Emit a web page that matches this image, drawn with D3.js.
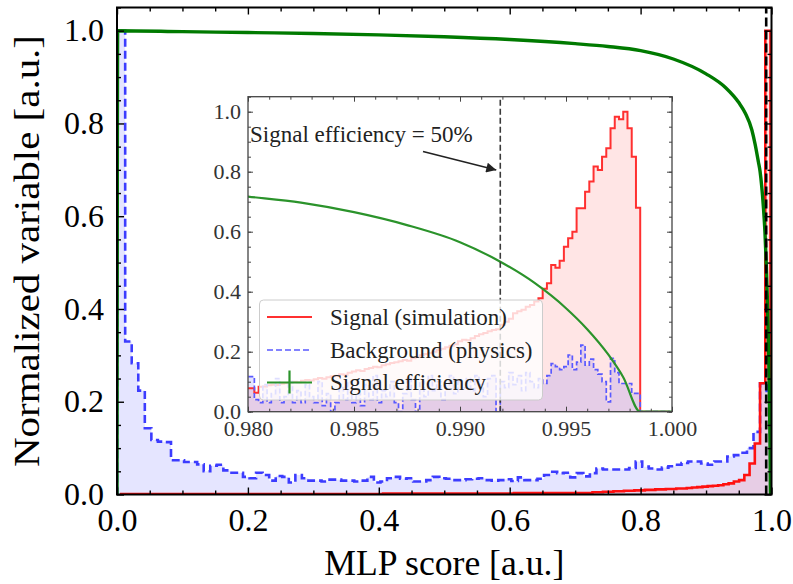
<!DOCTYPE html>
<html><head><meta charset="utf-8">
<script src="https://cdn.jsdelivr.net/npm/d3@7"></script>
<style>
body{margin:0;background:#fff}
svg{display:block}
text{font-family:"Liberation Serif","Times New Roman",serif}
</style>
</head><body>
<svg id="c" width="793" height="584"></svg>
<script>
// ---------------- DATA ----------------
// Main plot: background (physics) histogram, 100 bins
const bkgValues = [
1.0, 0.33, 0.283, 0.224, 0.143, 0.1175, 0.114, 0.113, 0.074, 0.074,
0.07, 0.07, 0.065, 0.05, 0.062, 0.064, 0.052, 0.047, 0.047, 0.038,
0.035, 0.047, 0.042, 0.03, 0.04, 0.038, 0.026, 0.042, 0.035, 0.03,
0.03, 0.028, 0.032, 0.032, 0.03, 0.03, 0.028, 0.03, 0.038, 0.026,
0.028, 0.035, 0.038, 0.034, 0.035, 0.028, 0.028, 0.031, 0.038, 0.035,
0.034, 0.031, 0.031, 0.033, 0.034, 0.035, 0.031, 0.03, 0.031, 0.033,
0.029, 0.037, 0.031, 0.031, 0.034, 0.042, 0.049, 0.046, 0.047, 0.037,
0.046, 0.039, 0.046, 0.056, 0.054, 0.054, 0.054, 0.054, 0.057, 0.071,
0.06, 0.056, 0.054, 0.058, 0.061, 0.064, 0.068, 0.071, 0.071, 0.067,
0.064, 0.071, 0.071, 0.082, 0.085, 0.09, 0.1, 0.135, 0.24, 0.22
];
// Main plot: signal (simulation) histogram, 124 bins of width 0.008 ending at 0.9985
const sigValues = [
0.001,0.001,0.001,0.001,0.001,0.001,0.001,0.001,0.001,0.001,
0.001,0.001,0.001,0.001,0.001,0.001,0.001,0.001,0.001,0.001,
0.001,0.001,0.001,0.001,0.001,0.001,0.001,0.001,0.001,0.001,
0.001,0.001,0.001,0.001,0.001,0.001,0.001,0.001,0.001,0.001,
0.001,0.001,0.001,0.001,0.001,0.001,0.001,0.001,0.001,0.001,
0.002,0.002,0.002,0.002,0.002,0.002,0.002,0.002,0.002,0.002,
0.002,0.002,0.002,0.002,0.002,0.002,0.002,0.002,0.002,0.002,
0.002,0.002,0.002,0.002,0.002,0.003,0.003,0.003,0.003,0.003,
0.003,0.003,0.003,0.003,0.003,0.003,0.003,0.003,0.003,0.003,
0.005,0.005,0.006,0.006,0.007,0.007,0.008,0.008,0.009,0.009,
0.01,0.01,0.011,0.011,0.012,0.012,0.013,0.013,0.014,0.015,
0.016,0.017,0.018,0.019,0.02,0.022,0.024,0.028,0.031,0.042,
0.067,0.11,0.24,1.0
];
// Signal efficiency curve (score, efficiency)
const effScore = [0, 0.001, 0.1, 0.2, 0.3, 0.4, 0.5, 0.6, 0.7, 0.75, 0.8, 0.85, 0.9, 0.93, 0.95, 0.96, 0.97, 0.975,
  0.98, 0.9825, 0.985, 0.9875, 0.99, 0.9919, 0.9935, 0.995, 0.996, 0.997, 0.9977, 0.9985, 1.0];
const effValue = [0, 1.0, 0.998, 0.996, 0.994, 0.991, 0.987, 0.981, 0.972, 0.966, 0.957, 0.939, 0.907, 0.877, 0.845, 0.822, 0.786, 0.755,
  0.717, 0.697, 0.665, 0.622, 0.565, 0.5, 0.43, 0.345, 0.275, 0.19, 0.115, 0.0, 0.0];
const effCut = 0.9919;   // score at 50% signal efficiency

// Inset: 100 bins of width 0.0002
const insetSig = [
0.078,0.078,0.063,0.083,0.084,0.088,0.09,0.089,0.093,0.095,
0.097,0.1,0.098,0.103,0.106,0.104,0.108,0.112,0.11,0.115,
0.118,0.12,0.125,0.123,0.13,0.134,0.138,0.136,0.142,0.146,
0.15,0.148,0.155,0.158,0.162,0.165,0.168,0.172,0.17,0.178,
0.182,0.188,0.192,0.196,0.2,0.206,0.21,0.215,0.22,0.225,
0.235,0.24,0.238,0.245,0.252,0.258,0.262,0.268,0.272,0.275,
0.29,0.3,0.31,0.328,0.335,0.34,0.35,0.356,0.367,0.378,
0.41,0.428,0.489,0.48,0.503,0.55,0.578,0.6,0.678,0.678,
0.733,0.767,0.817,0.806,0.85,0.878,0.945,0.983,0.975,1.0,
0.945,0.85,0.68,0,0,0,0,0,0,0
];
const insetBkg = [
0.117,0.117,0.04,0.03,0.09,0.03,0.06,0.11,0.03,0.05,
0.1,0.03,0.07,0.03,0.09,0.05,0.03,0.1,0.02,0.06,
0.0,0.03,0.08,0.04,0.1,0.03,0.06,0.02,0.09,0.04,
0.12,0.03,0.07,0.05,0.1,0.03,0.0,0.06,0.11,0.04,
0.0,0.1,0.05,0.12,0.07,0.1,0.04,0.09,0.12,0.06,
0.1,0.08,0.11,0.07,0.12,0.09,0.05,0.11,0.12,0.0,
0.1,0.08,0.13,0.09,0.12,0.07,0.13,0.1,0.08,0.11,
0.094,0.12,0.16,0.15,0.14,0.15,0.189,0.14,0.165,0.222,
0.155,0.175,0.14,0.125,0.1,0.033,0.178,0.13,0.094,0.094,
0.094,0.061,0.061,0,0,0,0,0,0,0
];
const mainXTicks = [0, 0.2, 0.4, 0.6, 0.8, 1.0];
const mainYTicks = [0, 0.2, 0.4, 0.6, 0.8, 1.0];
const insetXTicks = [0.980, 0.985, 0.990, 0.995, 1.000];
const insetYTicks = [0, 0.2, 0.4, 0.6, 0.8, 1.0];
const legendLabels = ["Signal (simulation)", "Background (physics)", "Signal efficiency"];
const annotationText = "Signal efficiency = 50%";
const xLabel = "MLP score [a.u.]";
const yLabel = "Normalized variable [a.u.]";

// bin edges (categories)
const bkgEdges = [0].concat(d3.range(1,100).map(i => 0.0025 + 0.01*i)).concat([1.0]);
const sigEdges = d3.range(125).map(k => 0.0065 + 0.008*k);
const insetEdges = d3.range(101).map(k => 0.9799 + 0.0002*k);

// ---------------- DRAW ----------------
const svg = d3.select("#c");
const defs = svg.append("defs");

function stepPts(edges, vals){
  const p = [[edges[0], 0]];
  vals.forEach((v,i) => { p.push([edges[i], v]); p.push([edges[i+1], v]); });
  p.push([edges[edges.length-1], 0]);
  return p;
}
function effPts(){ return effScore.map((s,i)=>[s, effValue[i]]); }

function ticks(g, xs, ys, o){
  const [x0,x1] = xs.range(), [y0,y1] = ys.range();
  const mk = (axis, tr, major, size, pad, fmt, fs) => {
    const a = g.append("g").attr("transform", tr).call(
      axis.tickValues(major).tickSizeInner(-size).tickSizeOuter(0).tickPadding(pad).tickFormat(fmt));
    a.select(".domain").remove();
    a.selectAll("line").attr("stroke", o.color).attr("stroke-width", o.tw);
    a.selectAll("text").attr("font-size", fs).attr("fill", o.textColor).attr("font-family", "Liberation Serif, serif");
    return a;
  };
  const none = () => "";
  mk(d3.axisBottom(xs), `translate(0,${y0})`, o.xMinor, o.minLen, 0, none, 1);
  mk(d3.axisTop(xs), `translate(0,${y1})`, o.xMinor, o.minLen, 0, none, 1);
  mk(d3.axisLeft(ys), `translate(${x0},0)`, o.yMinor, o.minLen, 0, none, 1);
  mk(d3.axisRight(ys), `translate(${x1},0)`, o.yMinor, o.minLen, 0, none, 1);
  mk(d3.axisBottom(xs), `translate(0,${y0})`, o.xMajor, o.majLen, o.xPad, o.xFmt, o.fs);
  mk(d3.axisTop(xs), `translate(0,${y1})`, o.xMajor, o.majLen, 0, none, 1);
  mk(d3.axisLeft(ys), `translate(${x0},0)`, o.yMajor, o.majLen, o.yPad, o.yFmt, o.fs);
  mk(d3.axisRight(ys), `translate(${x1},0)`, o.yMajor, o.majLen, 0, none, 1);
  g.append("rect").attr("x", x0).attr("y", y1).attr("width", x1-x0).attr("height", y0-y1)
    .attr("fill", "none").attr("stroke", o.color).attr("stroke-width", o.fw);
}

// ===== Main axes =====
const M = {l:117, r:771.5, t:7.5, b:494.5};
const x = d3.scaleLinear().domain([0,1]).range([M.l, M.r]);
const y = d3.scaleLinear().domain([0,1.05]).range([M.b, M.t]);

defs.append("clipPath").attr("id","clipMain").append("rect")
  .attr("x", M.l).attr("y", M.t).attr("width", M.r-M.l).attr("height", M.b-M.t);

const gm = svg.append("g").attr("clip-path","url(#clipMain)");
const lm = d3.line().x(d=>x(d[0])).y(d=>y(d[1]));
const bkgP = stepPts(bkgEdges, bkgValues), sigP = stepPts(sigEdges, sigValues);
gm.append("path").attr("d", lm(bkgP)+"Z").attr("fill","rgba(0,0,255,0.1)");
gm.append("path").attr("d", lm(sigP)+"Z").attr("fill","rgba(255,0,0,0.1)");
gm.append("path").attr("d", lm(bkgP)).attr("fill","none").attr("stroke","#3c3cff")
  .attr("stroke-width",2.6).attr("stroke-dasharray","8,4");
gm.append("path").attr("d", lm(sigP)).attr("fill","none").attr("stroke","#ff1010").attr("stroke-width",2.6);
gm.append("path").attr("d", d3.line().x(d=>x(d[0])).y(d=>y(d[1])).curve(d3.curveMonotoneX)(effPts()))
  .attr("fill","none").attr("stroke","#007a00").attr("stroke-width",3.4);
gm.append("line").attr("x1", x(effCut)).attr("x2", x(effCut)).attr("y1", M.b).attr("y2", M.t)
  .attr("stroke","#000").attr("stroke-width",2.6).attr("stroke-dasharray","9,4");

ticks(svg.append("g"), x, y, {
  color:"#000", textColor:"#000", tw:1.4, fw:2, majLen:7, minLen:4,
  xMajor: mainXTicks, xMinor: d3.range(0,1.0001,0.05).filter(v=>Math.abs(v*5-Math.round(v*5))>1e-6),
  yMajor: mainYTicks, yMinor: d3.range(0,1.0501,0.05).filter(v=>Math.abs(v*5-Math.round(v*5))>1e-6),
  xPad: 14, yPad: 13, xFmt: d3.format(".1f"), yFmt: d3.format(".1f"), fs: 32
});

svg.append("text").attr("x", (M.l+M.r)/2).attr("y", 575).attr("text-anchor","middle")
  .attr("font-size", 35).attr("textLength", 240).attr("lengthAdjust","spacingAndGlyphs").text(xLabel);
svg.append("text").attr("transform", `translate(39,${(M.t+M.b)/2}) rotate(-90)`).attr("text-anchor","middle")
  .attr("font-size", 35).attr("textLength", 432).attr("lengthAdjust","spacingAndGlyphs").text(yLabel);

// ===== Inset axes =====
const I = {l:248, r:672, t:96.7, b:411.7};
const xi = d3.scaleLinear().domain([0.98,1.0]).range([I.l, I.r]);
const yi = d3.scaleLinear().domain([0,1.05]).range([I.b, I.t]);
defs.append("clipPath").attr("id","clipIn").append("rect")
  .attr("x", I.l).attr("y", I.t).attr("width", I.r-I.l).attr("height", I.b-I.t);

svg.append("rect").attr("x", I.l).attr("y", I.t).attr("width", I.r-I.l).attr("height", I.b-I.t).attr("fill","#fff");
const gi = svg.append("g").attr("clip-path","url(#clipIn)");
const li = d3.line().x(d=>xi(d[0])).y(d=>yi(d[1]));
const iSigP = stepPts(insetEdges, insetSig), iBkgP = stepPts(insetEdges, insetBkg);
gi.append("path").attr("d", li(iSigP)+"Z").attr("fill","rgba(255,0,0,0.1)");
gi.append("path").attr("d", li(iBkgP)+"Z").attr("fill","rgba(0,0,255,0.1)");
gi.append("path").attr("d", li(iSigP)).attr("fill","none").attr("stroke","#ff3030").attr("stroke-width",2);
gi.append("path").attr("d", li(iBkgP)).attr("fill","none").attr("stroke","#5a5aff")
  .attr("stroke-width",1.7).attr("stroke-dasharray","5,2.5");
gi.append("path").attr("d", d3.line().x(d=>xi(d[0])).y(d=>yi(d[1])).curve(d3.curveMonotoneX)(effPts()))
  .attr("fill","none").attr("stroke","#2b932b").attr("stroke-width",2.2);
gi.append("line").attr("x1", xi(effCut)).attr("x2", xi(effCut)).attr("y1", I.b).attr("y2", I.t)
  .attr("stroke","#3a3a3a").attr("stroke-width",1.6).attr("stroke-dasharray","6,3");

ticks(svg.append("g"), xi, yi, {
  color:"#444", textColor:"#333", tw:1, fw:1.3, majLen:5, minLen:3,
  xMajor: insetXTicks, xMinor: d3.range(0,21).map(k=>0.98+0.001*k),
  yMajor: insetYTicks, yMinor: d3.range(0,22).map(k=>0.05*k),
  xPad: 9, yPad: 7, xFmt: d3.format(".3f"), yFmt: d3.format(".1f"), fs: 22
});

// annotation with arrow
defs.append("marker").attr("id","arr").attr("viewBox","0 0 10 10").attr("refX",10).attr("refY",5)
  .attr("markerWidth",12).attr("markerHeight",10).attr("markerUnits","userSpaceOnUse").attr("orient","auto")
  .append("path").attr("d","M0,0L10,5L0,10Z").attr("fill","#222");
svg.append("text").attr("x", 250).attr("y", 141.5).attr("font-size", 23).attr("fill","#222").text(annotationText);
svg.append("line").attr("x1", 423).attr("y1", 151.5).attr("x2", xi(effCut)-4).attr("y2", 170)
  .attr("stroke","#222").attr("stroke-width",1.6).attr("marker-end","url(#arr)");

// legend
const lg = svg.append("g");
lg.append("rect").attr("x", 259.5).attr("y", 300).attr("width", 283).attr("height", 100).attr("rx", 4)
  .attr("fill","rgba(255,255,255,0.8)").attr("stroke","#cccccc").attr("stroke-width",1);
const rows = [317, 350, 382.5];
lg.append("line").attr("x1",267).attr("x2",312).attr("y1",rows[0]).attr("y2",rows[0]).attr("stroke","#ff3030").attr("stroke-width",2);
lg.append("line").attr("x1",267).attr("x2",312).attr("y1",rows[1]).attr("y2",rows[1]).attr("stroke","#5a5aff")
  .attr("stroke-width",1.7).attr("stroke-dasharray","6,3");
lg.append("line").attr("x1",267).attr("x2",312).attr("y1",rows[2]).attr("y2",rows[2]).attr("stroke","#2b932b").attr("stroke-width",2.2);
lg.append("line").attr("x1",289.5).attr("x2",289.5).attr("y1",rows[2]-12).attr("y2",rows[2]+11).attr("stroke","#2b932b").attr("stroke-width",2.2);
legendLabels.forEach((t,i) => lg.append("text").attr("x",330).attr("y",rows[i]).attr("dy","0.33em")
  .attr("font-size",23).attr("fill","#222").text(t));
</script>
</body></html>
